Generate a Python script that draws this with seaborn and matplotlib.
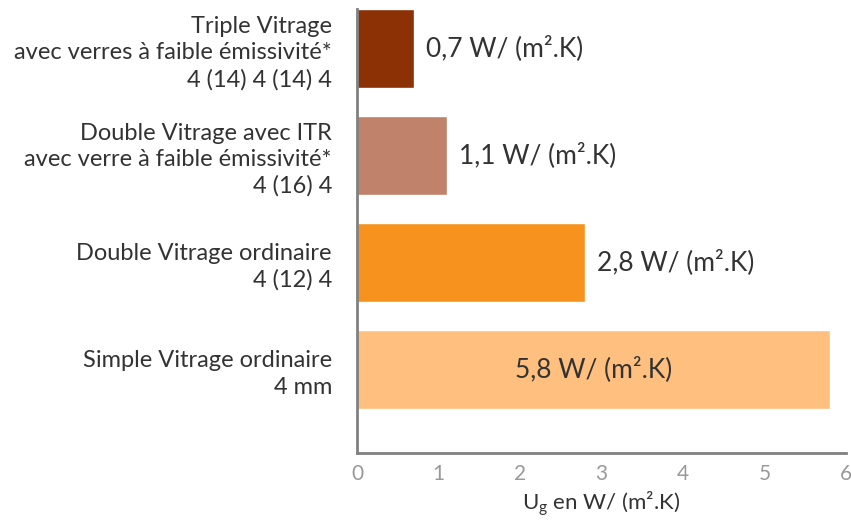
import matplotlib
matplotlib.use("Agg")
import matplotlib.pyplot as plt
import seaborn as sns
import pandas as pd

# data
categories = [
    "Triple Vitrage\navec verres à faible émissivité*\n4 (14) 4 (14) 4",
    "Double Vitrage avec ITR\navec verre à faible émissivité*\n4 (16) 4",
    "Double Vitrage ordinaire\n4 (12) 4",
    "Simple Vitrage ordinaire\n4 mm",
]
u_values = [0.7, 1.1, 2.8, 5.8]
value_labels = ["0,7 W/ (m².K)", "1,1 W/ (m².K)", "2,8 W/ (m².K)", "5,8 W/ (m².K)"]
bar_colors = ["#8C3005", "#C0826A", "#F7921E", "#FFC07F"]

df = pd.DataFrame({"vitrage": categories, "u": u_values})

sns.set_style("white")
plt.rcParams["font.family"] = ["Lato", "DejaVu Sans"]

fig = plt.figure(figsize=(8.51, 5.26), dpi=100)
ax = fig.add_axes([0.4195, 0.139, 0.5745, 0.844])

sns.barplot(data=df, x="u", y="vitrage", hue="vitrage", palette=bar_colors,
            legend=False, width=0.74, saturation=1, ax=ax)

# value labels: outside the bar, except the long one which goes inside
for i, (v, lab) in enumerate(zip(u_values, value_labels)):
    if v > 5:
        ax.text(v / 2, i, lab, ha="center", va="center", fontsize=19, color="#333333")
    else:
        ax.text(v + 0.15, i, lab, ha="left", va="center", fontsize=19, color="#333333")

ax.set_xlim(0, 6)
ax.set_ylim(3.78, -0.37)
ax.set_xticks(range(7))
ax.set_ylabel("")
ax.set_xlabel("U$_\\mathregular{g}$ en W/ (m².K)", fontsize=16, color="#333333", labelpad=4)

for s in ["top", "right"]:
    ax.spines[s].set_visible(False)
for s in ["left", "bottom"]:
    ax.spines[s].set_color("#808080")
    ax.spines[s].set_linewidth(2)

ax.tick_params(axis="x", direction="in", length=6, width=2, color="#808080",
               labelsize=15, labelcolor="#999999", pad=8)
ax.tick_params(axis="y", length=0, pad=18)
for t in ax.get_yticklabels():
    t.set_fontsize(17)
    t.set_color("#333333")
    t.set_ha("right")
    t.set_linespacing(1.3)

fig.savefig("out.png", dpi=100)
